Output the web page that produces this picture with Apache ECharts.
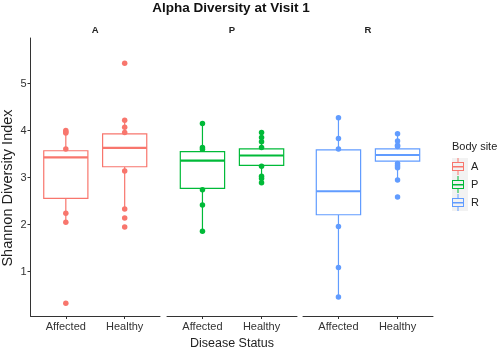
<!DOCTYPE html>
<html><head><meta charset="utf-8">
<script src="https://cdn.jsdelivr.net/npm/echarts@6/dist/echarts.min.js"></script>
<style>html,body{margin:0;padding:0;background:#fff}#c{width:500px;height:347px}</style>
</head><body><div id="c"></div>
<script>
// ---- data ----
const categories = ['Affected', 'Healthy'];
const bodySites = ['A', 'P', 'R'];
const yTicks = [1, 2, 3, 4, 5];
// box stats per category: [q1, median, q3, whiskerLow, whiskerHigh]
const boxA = [[2.56, 3.43, 3.57, 2.05, 4.00], [3.23, 3.63, 3.93, 2.33, 4.22]];
const boxP = [[2.77, 3.36, 3.55, 1.86, 4.15], [3.26, 3.47, 3.61, 2.89, 3.96]];
const boxR = [[2.21, 2.71, 3.59, 0.46, 4.27], [3.35, 3.48, 3.61, 2.95, 3.93]];
// observed points
const ptsA_Affected = [4.00, 3.97, 3.95, 3.61, 2.24, 2.05, 0.33];
const ptsA_Healthy  = [5.43, 4.22, 4.07, 3.96, 3.14, 2.33, 2.14, 1.95];
const ptsP_Affected = [4.15, 3.64, 3.60, 2.74, 2.42, 1.86];
const ptsP_Healthy  = [3.96, 3.85, 3.76, 3.64, 3.24, 3.03, 2.98, 2.89];
const ptsR_Affected = [4.27, 3.83, 3.61, 1.96, 1.09, 0.46];
const ptsR_Healthy  = [3.93, 3.78, 3.69, 3.66, 3.30, 3.25, 3.21, 2.95, 2.59];

// ---- styling ----
const colors = ['#F8766D', '#00BA38', '#619CFF'];
const FONT = 'Liberation Sans, Arial, sans-serif';
const boxes = [boxA, boxP, boxR];
const points = [[ptsA_Affected, ptsA_Healthy], [ptsP_Affected, ptsP_Healthy], [ptsR_Affected, ptsR_Healthy]];
const panelCenters = [95.25, 232, 368];
const grids = [
  {left: 30.5, top: 38, width: 129.5, height: 278, outerBoundsMode: 'none', containLabel: false},
  {left: 167, top: 38, width: 130, height: 278, outerBoundsMode: 'none', containLabel: false},
  {left: 303, top: 38, width: 130, height: 278, outerBoundsMode: 'none', containLabel: false}
];
const axisColor = '#333';

function makeRender(color) {
  return function (params, api) {
    const x = api.value(0), q1 = api.value(1), med = api.value(2), q3 = api.value(3), lo = api.value(4), hi = api.value(5);
    const hw = 0.375;
    const tl = api.coord([x - hw, q3]), br = api.coord([x + hw, q1]);
    const mL = api.coord([x - hw, med]), mR = api.coord([x + hw, med]);
    const cHi = api.coord([x, hi]), cQ3 = api.coord([x, q3]), cQ1 = api.coord([x, q1]), cLo = api.coord([x, lo]);
    const ls = {stroke: color, lineWidth: 1.2};
    return {type: 'group', children: [
      {type: 'line', shape: {x1: cHi[0], y1: cHi[1], x2: cQ3[0], y2: cQ3[1]}, style: ls},
      {type: 'line', shape: {x1: cQ1[0], y1: cQ1[1], x2: cLo[0], y2: cLo[1]}, style: ls},
      {type: 'rect', shape: {x: tl[0], y: tl[1], width: br[0] - tl[0], height: br[1] - tl[1]}, style: {fill: '#fff', stroke: color, lineWidth: 1.2}},
      {type: 'line', shape: {x1: mL[0], y1: mL[1], x2: mR[0], y2: mR[1]}, style: {stroke: color, lineWidth: 2.2}}
    ]};
  };
}

const xAxes = grids.map((g, i) => ({
  type: 'value', gridIndex: i, min: 0.4, max: 2.6,
  axisLine: {show: true, lineStyle: {color: axisColor, width: 1}},
  axisTick: {show: true, customValues: [1, 2], length: 3, lineStyle: {color: axisColor}},
  axisLabel: {show: true, customValues: [1, 2], margin: 5, color: '#333', fontSize: 11, fontFamily: FONT,
    formatter: v => categories[Math.round(v) - 1] || ''},
  splitLine: {show: false},
  name: i === 1 ? 'Disease Status' : '', nameLocation: 'middle', nameGap: 18,
  nameTextStyle: {fontSize: 12.5, color: '#222', fontFamily: FONT}
}));
const yAxes = grids.map((g, i) => ({
  type: 'value', gridIndex: i, min: 0.058, max: 5.967, show: i === 0,
  axisLine: {show: true, lineStyle: {color: axisColor, width: 1}},
  axisTick: {show: true, customValues: yTicks, length: 3, lineStyle: {color: axisColor}},
  axisLabel: {show: true, customValues: yTicks, margin: 4, color: '#333', fontSize: 11, fontFamily: FONT},
  splitLine: {show: false},
  name: i === 0 ? 'Shannon Diversity Index' : '', nameLocation: 'middle', nameGap: 15,
  nameTextStyle: {fontSize: 14.5, color: '#222', fontFamily: FONT, padding: [0, 22, 0, 0]}
}));

const series = [];
bodySites.forEach((site, i) => {
  series.push({
    name: site, type: 'custom', xAxisIndex: i, yAxisIndex: i,
    itemStyle: {color: colors[i]},
    renderItem: makeRender(colors[i]),
    encode: {x: 0, y: [1, 2, 3, 4, 5]},
    data: boxes[i].map((s, j) => [j + 1].concat(s)),
    silent: true, z: 2
  });
});
bodySites.forEach((site, i) => {
  const d = [];
  points[i].forEach((arr, j) => arr.forEach(v => d.push([j + 1, v])));
  series.push({
    name: site + ' points', type: 'scatter', xAxisIndex: i, yAxisIndex: i,
    symbol: 'circle', symbolSize: 5.5, itemStyle: {color: colors[i], opacity: 1},
    data: d, silent: true, z: 3
  });
});

const iconPath = 'path://M2,4L14,4L14,5L2,5Z M2,12L14,12L14,13L2,13Z M2,4L3,4L3,13L2,13Z M13,4L14,4L14,13L13,13Z M2,8L14,8L14,9.4L2,9.4Z M7.5,0L8.5,0L8.5,4L7.5,4Z M7.5,13L8.5,13L8.5,17L7.5,17Z';

const titles = [
  {text: 'Alpha Diversity at Visit 1', left: 231, top: 1.5, padding: 0, textAlign: 'center',
   textStyle: {fontSize: 13.5, fontWeight: 'bold', color: '#111', fontFamily: FONT}},
  {text: 'Body site', left: 452, top: 141, padding: 0,
   textStyle: {fontSize: 11, fontWeight: 'normal', color: '#222', fontFamily: FONT}}
].concat(bodySites.map((s, i) => ({
  text: s, left: panelCenters[i], top: 25, padding: 0, textAlign: 'center',
  textStyle: {fontSize: 9.5, fontWeight: 'bold', color: '#222', fontFamily: FONT}
})));

const chart = echarts.init(document.getElementById('c'), null, {renderer: 'canvas'});
chart.setOption({
  animation: false,
  backgroundColor: '#fff',
  title: titles,
  grid: grids,
  xAxis: xAxes,
  yAxis: yAxes,
  legend: {
    data: bodySites.map(n => ({name: n, icon: iconPath})),
    orient: 'vertical', left: 452, top: 158, padding: 0,
    itemWidth: 16, itemHeight: 17, itemGap: 1, selectedMode: false,
    textStyle: {fontSize: 11, color: '#222', fontFamily: FONT}
  },
  graphic: [{type: 'rect', left: 452, top: 158, z: -1, shape: {width: 16, height: 53}, style: {fill: '#F2F2F2'}}],
  series: series
});
</script></body></html>
